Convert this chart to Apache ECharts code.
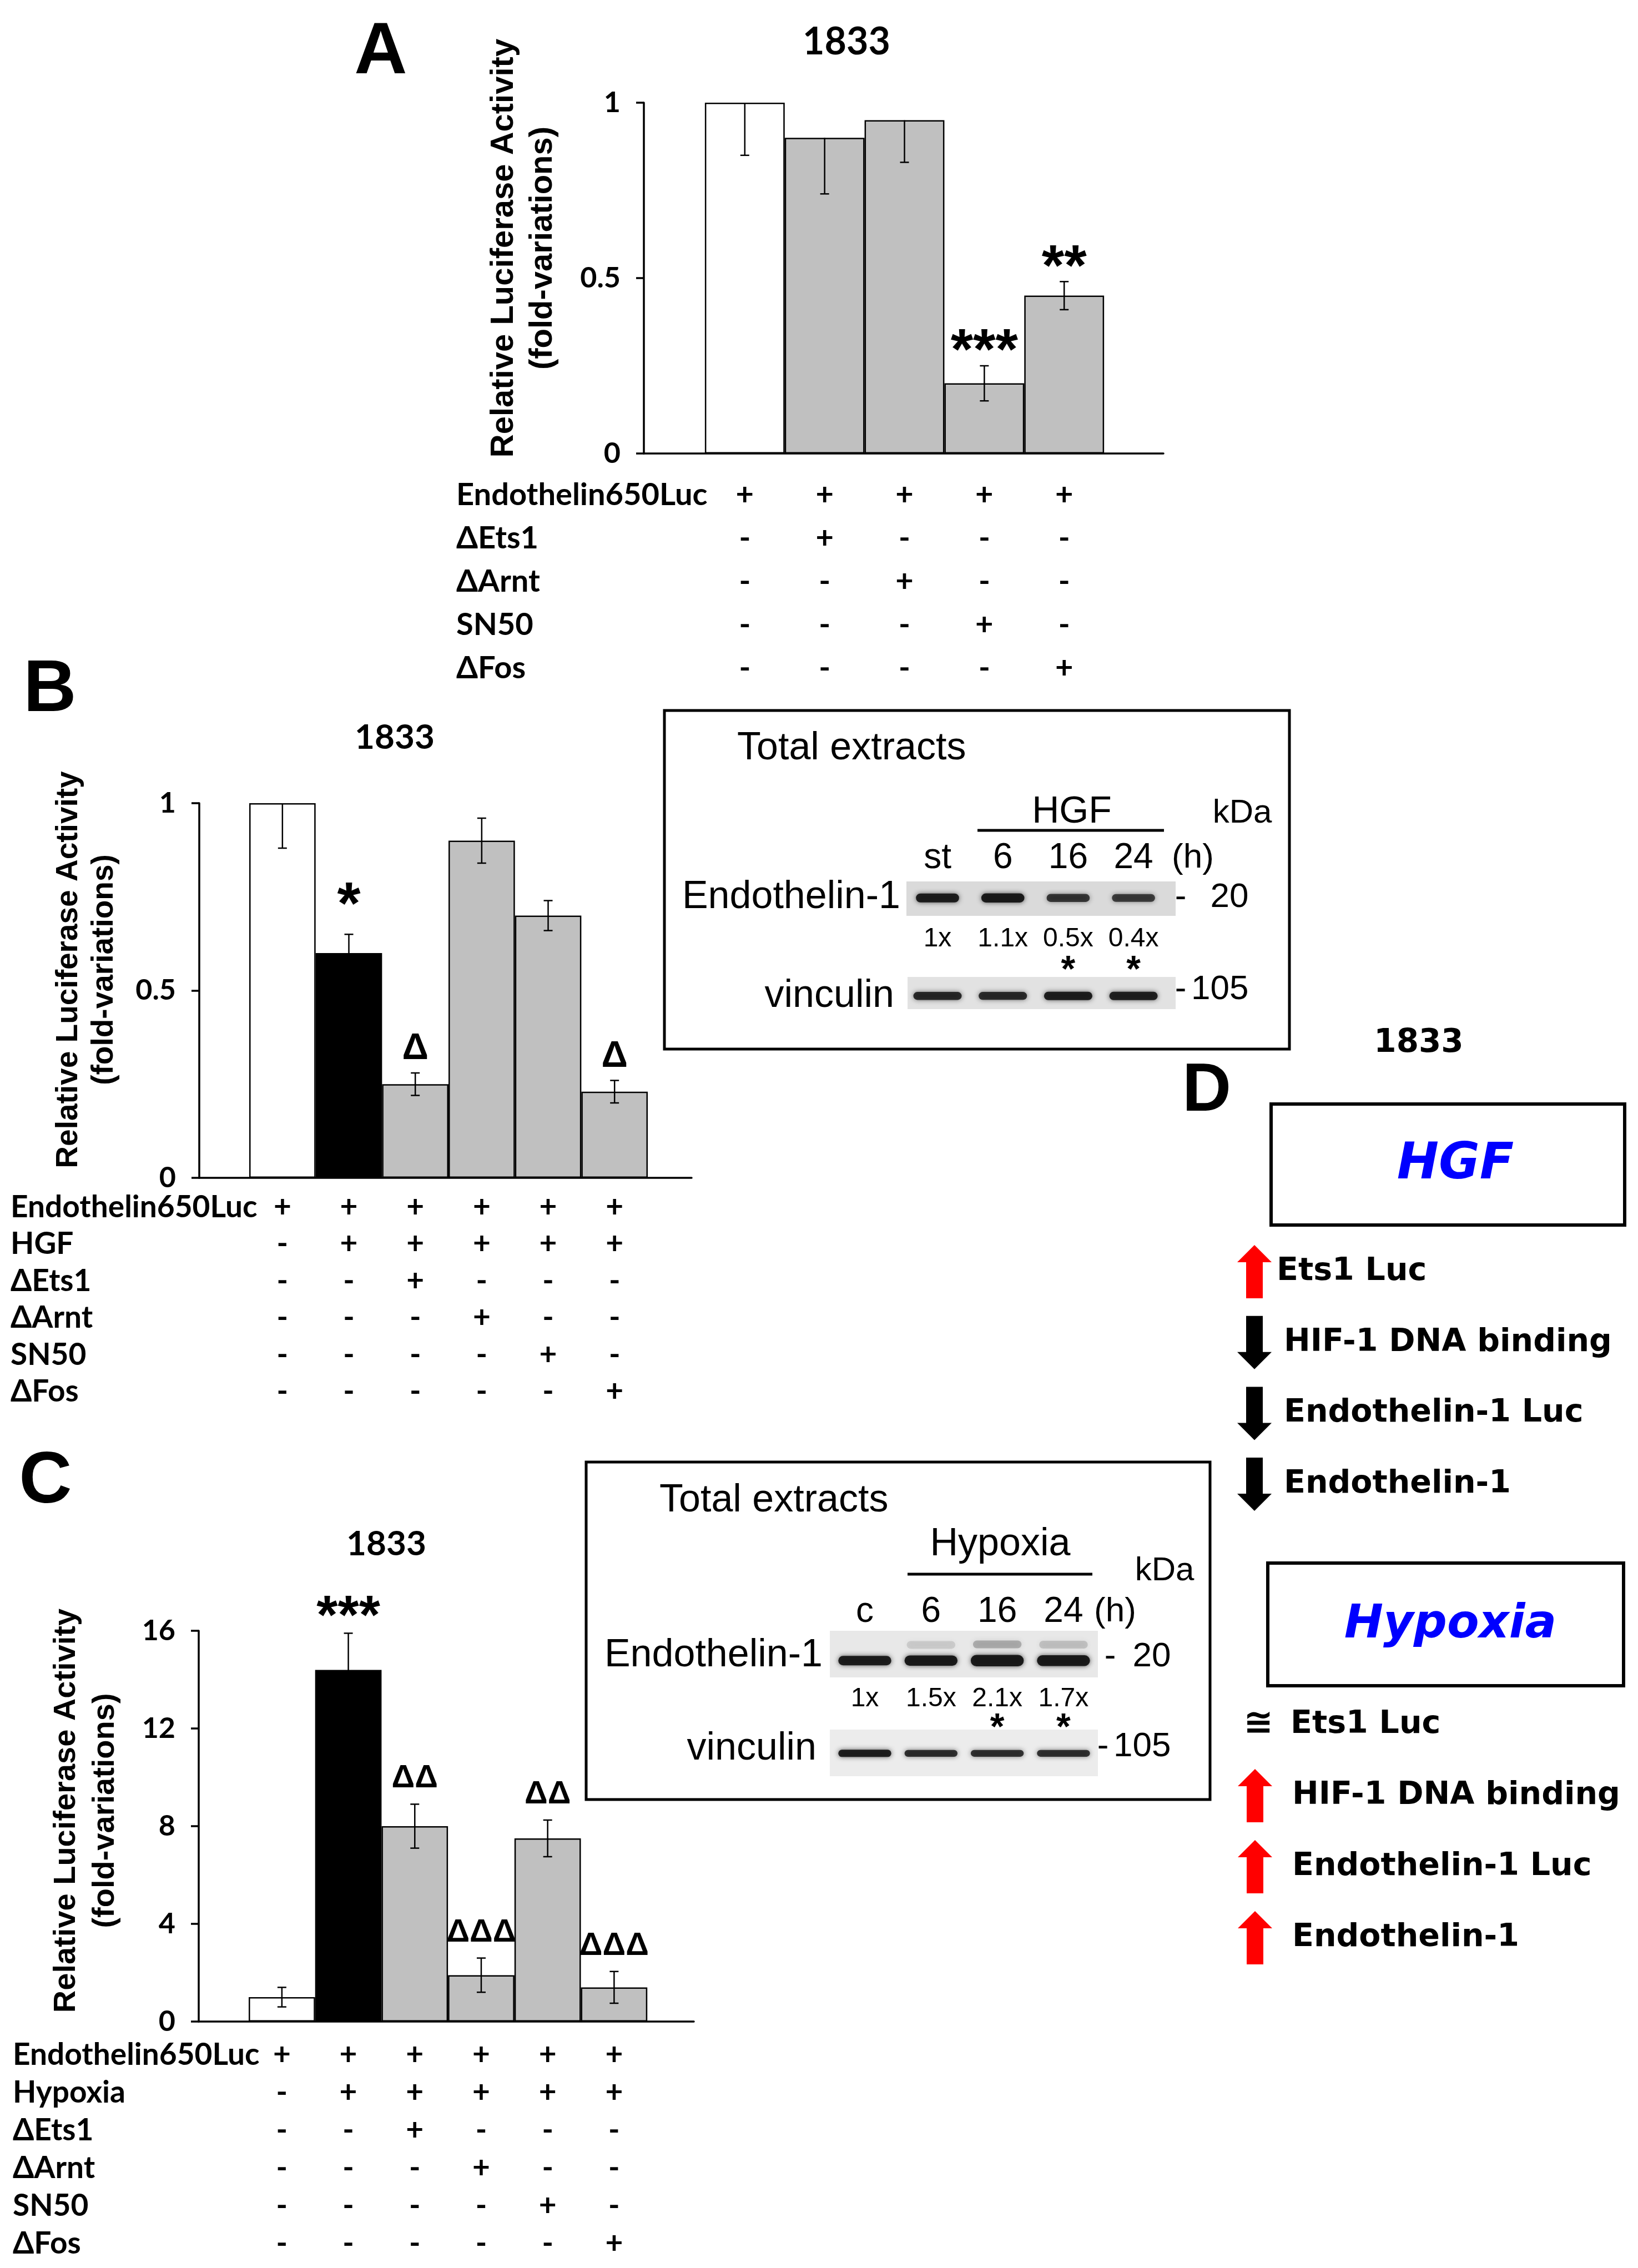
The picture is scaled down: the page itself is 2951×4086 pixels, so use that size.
<!DOCTYPE html>
<html><head><meta charset="utf-8">
<script src="https://cdn.jsdelivr.net/npm/echarts@6/dist/echarts.min.js"></script>
<style>html,body{margin:0;padding:0;background:#fff}#c{width:2951px;height:4086px}</style>
</head><body><div id="c"></div>
<script>
// ================= DATA =================
// Panel A
const titleA = '1833';
const barsA = [1.00, 0.90, 0.95, 0.20, 0.45];
const errUpA = [0, 0, 0, 0.05, 0.04];
const errDownA = [0.15, 0.16, 0.12, 0.05, 0.04];
const signifA = ['', '', '', '***', '**'];
const rowsA = ['Endothelin650Luc', 'ΔEts1', 'ΔArnt', 'SN50', 'ΔFos'];
const tableA = [
  ['+', '+', '+', '+', '+'],
  ['-', '+', '-', '-', '-'],
  ['-', '-', '+', '-', '-'],
  ['-', '-', '-', '+', '-'],
  ['-', '-', '-', '-', '+']
];
const yTicksA = [0, 0.5, 1];

// Panel B
const titleB = '1833';
const barsB = [1.00, 0.60, 0.25, 0.90, 0.70, 0.23];
const errUpB = [0, 0.05, 0.03, 0.06, 0.04, 0.03];
const errDownB = [0.12, 0.05, 0.03, 0.06, 0.04, 0.03];
const signifB = ['', '*', 'Δ', '', '', 'Δ'];
const rowsB = ['Endothelin650Luc', 'HGF', 'ΔEts1', 'ΔArnt', 'SN50', 'ΔFos'];
const tableB = [
  ['+', '+', '+', '+', '+', '+'],
  ['-', '+', '+', '+', '+', '+'],
  ['-', '-', '+', '-', '-', '-'],
  ['-', '-', '-', '+', '-', '-'],
  ['-', '-', '-', '-', '+', '-'],
  ['-', '-', '-', '-', '-', '+']
];
const yTicksB = [0, 0.5, 1];

// Panel C
const titleC = '1833';
const barsC = [1.0, 14.4, 8.0, 1.9, 7.5, 1.4];
const errUpC = [0.4, 1.5, 0.9, 0.7, 0.75, 0.65];
const errDownC = [0.4, 1.5, 0.9, 0.7, 0.75, 0.65];
const signifC = ['', '***', 'ΔΔ', 'ΔΔΔ', 'ΔΔ', 'ΔΔΔ'];
const rowsC = ['Endothelin650Luc', 'Hypoxia', 'ΔEts1', 'ΔArnt', 'SN50', 'ΔFos'];
const tableC = [
  ['+', '+', '+', '+', '+', '+'],
  ['-', '+', '+', '+', '+', '+'],
  ['-', '-', '+', '-', '-', '-'],
  ['-', '-', '-', '+', '-', '-'],
  ['-', '-', '-', '-', '+', '-'],
  ['-', '-', '-', '-', '-', '+']
];
const yTicksC = [0, 4, 16];

// Western blots
const lanesHGF = ['st', '6', '16', '24'];
const et1HGF = [1, 1.1, 0.5, 0.4];
const signifHGF = ['', '', '*', '*'];
const vincHGF = [0.8, 0.75, 1.0, 0.95];
const lanesHyp = ['c', '6', '16', '24'];
const et1Hyp = [1, 1.5, 2.1, 1.7];
const signifHyp = ['', '', '*', '*'];
const vincHyp = [1.0, 0.7, 0.65, 0.65];

// Panel D
const dTitle = '1833';
const dItems = ['Ets1 Luc', 'HIF-1 DNA binding', 'Endothelin-1 Luc', 'Endothelin-1'];
const dHGF = ['up', 'down', 'down', 'down'];
const dHyp = ['similar', 'up', 'up', 'up'];

// ================= STYLE / LAYOUT =================
const F_BAR = 'Lato, "Open Sans", sans-serif';
const F_ARIAL = '"Liberation Sans", Arial, sans-serif';
const F_D = '"DejaVu Sans", sans-serif';
const WHITE = '#ffffff', BLACK = '#000000', GRAY = '#c0c0c0';

const L = {
  A: {left: 1160, top: 185, width: 936, height: 632, xMin: -1.264, xMax: 5.243,
      rowX: 822, rowFirst: 75, rowStep: 78, title: [1525, 76], titleSize: 68,
      yTitle: [943, 447], yTitleSize: 58, yTitleLH: 70, rowFont: 56, stim: false},
  B: {left: 359, top: 1447, width: 887, height: 675, xMin: -1.252, xMax: 6.16,
      rowX: 19, rowFirst: 53, rowStep: 66.5, title: [711, 1329], titleSize: 62,
      yTitle: [156, 1747], yTitleSize: 55, yTitleLH: 64, rowFont: 55, stim: true},
  C: {left: 358, top: 2938, width: 892, height: 704, xMin: -1.252, xMax: 6.2,
      rowX: 23, rowFont: 55, rowFirst: 60, rowStep: 68, title: [696, 2782], titleSize: 62,
      yTitle: [155, 3262], yTitleSize: 56, yTitleLH: 70, stim: true}
};
const panels = {
  A: {bars: barsA, up: errUpA, dn: errDownA, sig: signifA, rows: rowsA, table: tableA, ticks: yTicksA, title: titleA},
  B: {bars: barsB, up: errUpB, dn: errDownB, sig: signifB, rows: rowsB, table: tableB, ticks: yTicksB, title: titleB},
  C: {bars: barsC, up: errUpC, dn: errDownC, sig: signifC, rows: rowsC, table: tableC, ticks: yTicksC, title: titleC}
};
const keys = ['A', 'B', 'C'];

const blotL = [
  {key: 'hgfEt', left: 1633, top: 1588, width: 485, height: 62, xMin: -0.476, xMax: 3.645, bandY: 0.52, bandH: 16, bandW: 0.66, bg: '#dadada',
   values: et1HGF, lanes: lanesHGF, sig: signifHGF, laneGap: 42, ratioGap: 42, starGap: 100, smear: false},
  {key: 'hgfVi', left: 1635, top: 1760, width: 483, height: 58, xMin: -0.459, xMax: 3.645, bandY: 0.41, bandH: 15, bandW: 0.74, bg: '#e2e2e2',
   values: vincHGF},
  {key: 'hypEt', left: 1495, top: 2938, width: 483, height: 84, xMin: -0.528, xMax: 3.52, bandY: 0.36, bandH: 17, bandW: 0.8, bg: '#e8e8e8',
   values: et1Hyp, lanes: lanesHyp, sig: signifHyp, laneGap: 34, ratioGap: 39, starGap: 93, smear: true},
  {key: 'hypVi', left: 1495, top: 3116, width: 483, height: 84, xMin: -0.528, xMax: 3.52, bandY: 0.49, bandH: 13, bandW: 0.8, bg: '#ececec',
   values: vincHyp}
];

function barColor(k, i) {
  if (i === 0) return WHITE;
  if (L[k].stim && i === 1) return BLACK;
  return GRAY;
}

// ================= OPTION =================
const grid = [], xAxis = [], yAxis = [], series = [], graphic = [];

keys.forEach((k, gi) => {
  const P = panels[k], G = L[k];
  grid.push({left: G.left, top: G.top, width: G.width, height: G.height, containLabel: false});
  xAxis.push({type: 'value', gridIndex: gi, min: G.xMin, max: G.xMax,
    axisLine: {show: true, onZero: false, lineStyle: {color: '#000', width: 3.5}},
    axisTick: {show: false}, axisLabel: {show: false}, splitLine: {show: false}});
  yAxis.push({type: 'value', gridIndex: gi, min: P.ticks[0], interval: P.ticks[1], max: P.ticks[2],
    axisLine: {show: true, onZero: false, lineStyle: {color: '#000', width: 3.5}},
    axisTick: {show: true, inside: false, length: 14, lineStyle: {color: '#000', width: 3.5}},
    axisLabel: {show: true, margin: 42, color: '#000', fontFamily: F_BAR, fontWeight: 'bold', fontSize: 52},
    splitLine: {show: false}});
  const bw = G.width / (G.xMax - G.xMin);
  series.push({type: 'bar', xAxisIndex: gi, yAxisIndex: gi, barWidth: bw, silent: true,
    data: P.bars.map((v, i) => ({value: [i, v], itemStyle: {color: barColor(k, i), borderColor: '#000', borderWidth: 2.5}})), z: 2});
  series.push({type: 'custom', xAxisIndex: gi, yAxisIndex: gi, clip: false, silent: true, z: 4,
    data: P.bars.map((v, i) => [i, v, P.up[i], P.dn[i]]),
    renderItem: function (params, api) {
      const i = api.value(0), v = api.value(1), up = api.value(2), dn = api.value(3);
      const top = api.coord([i, v + up]), bot = api.coord([i, v - dn]);
      const x = top[0], cap = 8;
      const ch = [{type: 'line', shape: {x1: x, y1: top[1], x2: x, y2: bot[1]}, style: {stroke: '#000', lineWidth: 2.5}}];
      if (up > 0) ch.push({type: 'line', shape: {x1: x - cap, y1: top[1], x2: x + cap, y2: top[1]}, style: {stroke: '#000', lineWidth: 2.5}});
      if (dn > 0) ch.push({type: 'line', shape: {x1: x - cap, y1: bot[1], x2: x + cap, y2: bot[1]}, style: {stroke: '#000', lineWidth: 2.5}});
      const s = P.sig[params.dataIndex];
      if (s) {
        const isStar = s.indexOf('*') >= 0;
        let size, gap;
        if (isStar) { size = k === 'B' ? 108 : (k === 'A' ? 104 : 98); gap = (k === 'B' ? 71 : (k === 'A' ? 43 : 46)) - 0.2 * size; }
        else { size = k === 'B' ? 66 : 58; gap = k === 'B' ? 43 : 46; }
        ch.push({type: 'text', style: {text: s, x: x, y: top[1] - gap, align: 'center', verticalAlign: 'middle',
          font: 'bold ' + size + 'px ' + F_ARIAL, fill: '#000'}});
      }
      return {type: 'group', children: ch};
    }});
  series.push({type: 'custom', xAxisIndex: gi, yAxisIndex: gi, clip: false, silent: true, z: 4,
    data: P.bars.map((v, i) => [i, 0]),
    renderItem: function (params, api) {
      const p = api.coord([api.value(0), 0]);
      const col = params.dataIndex;
      return {type: 'group', children: P.table.map((row, r) => ({type: 'text', style: {
        text: row[col], x: p[0], y: p[1] + G.rowFirst + r * G.rowStep, align: 'center', verticalAlign: 'middle',
        font: 'bold ' + G.rowFont + 'px ' + F_BAR, fill: '#000'}}))};
    }});
  // row labels
  P.rows.forEach((name, r) => {
    graphic.push({type: 'text', x: G.rowX, y: G.top + G.height + G.rowFirst + r * G.rowStep,
      style: {text: name, align: 'left', verticalAlign: 'middle', font: 'bold ' + G.rowFont + 'px ' + F_BAR, fill: '#000'}});
  });
  // title
  graphic.push({type: 'text', x: G.title[0], y: G.title[1],
    style: {text: P.title, align: 'center', verticalAlign: 'middle', font: 'bold ' + G.titleSize + 'px ' + F_BAR, fill: '#000'}});
  // y axis title
  graphic.push({type: 'text', x: G.yTitle[0], y: G.yTitle[1], rotation: Math.PI / 2,
    style: {text: 'Relative Luciferase Activity\n(fold-variations)', align: 'center', verticalAlign: 'middle',
      lineHeight: G.yTitleLH, font: 'bold ' + G.yTitleSize + 'px ' + F_ARIAL, fill: '#000'}});
});

// Blots
blotL.forEach((B, bi) => {
  const gi = 3 + bi;
  grid.push({left: B.left, top: B.top, width: B.width, height: B.height, show: true, backgroundColor: B.bg, borderWidth: 0});
  xAxis.push({type: 'value', gridIndex: gi, min: B.xMin, max: B.xMax, show: false});
  yAxis.push({type: 'value', gridIndex: gi, min: 0, max: 1, show: false});
  series.push({type: 'custom', xAxisIndex: gi, yAxisIndex: gi, clip: false, silent: true, z: 3,
    data: B.values.map((v, i) => [i, v]),
    renderItem: function (params, api) {
      const i = api.value(0), r = api.value(1);
      const c = api.coord([i, B.bandY]);
      const xl = api.coord([i - B.bandW / 2, 0])[0], xr = api.coord([i + B.bandW / 2, 0])[0];
      const h = B.bandH * (0.8 + 0.2 * Math.min(r, 2));
      const a = Math.min(0.95, 0.62 + 0.3 * r);
      const ch = [{type: 'rect', shape: {x: xl, y: c[1] - h / 2, width: xr - xl, height: h, r: h / 2},
        style: {fill: 'rgba(20,20,20,' + a + ')', shadowBlur: 8, shadowColor: 'rgba(20,20,20,' + (a * 0.8) + ')'}}];
      if (B.smear && r > 1.2) {
        ch.push({type: 'rect', shape: {x: xl + 4, y: c[1] - h / 2 - 26, width: xr - xl - 8, height: 14, r: 7},
          style: {fill: 'rgba(70,70,70,' + Math.min(0.45, 0.3 * (r - 1)) + ')', shadowBlur: 10, shadowColor: 'rgba(70,70,70,0.4)'}});
      }
      if (B.lanes) {
        const tp = api.coord([i, 1])[1], bt = api.coord([i, 0])[1];
        const cx = c[0];
        ch.push({type: 'text', style: {text: B.lanes[params.dataIndex], x: cx, y: tp - B.laneGap, align: 'center', verticalAlign: 'middle',
          font: '64px ' + F_ARIAL, fill: '#000'}});
        ch.push({type: 'text', style: {text: r + 'x', x: cx, y: bt + B.ratioGap, align: 'center', verticalAlign: 'middle',
          font: '48px ' + F_ARIAL, fill: '#000'}});
        const s = B.sig[params.dataIndex];
        if (s) ch.push({type: 'text', style: {text: s, x: cx, y: bt + B.starGap, align: 'center', verticalAlign: 'middle',
          font: 'bold 66px ' + F_ARIAL, fill: '#000'}});
      }
      return {type: 'group', children: ch};
    }});
});

// Panel letters
[['A', 686, 96], ['B', 90, 1245], ['C', 82, 2671], ['D', 2174, 1967]].forEach(t => {
  graphic.push({type: 'text', x: t[1], y: t[2], style: {text: t[0], align: 'center', verticalAlign: 'middle',
    font: 'bold ' + (t[0] === 'D' ? 122 : 132) + 'px ' + F_ARIAL, fill: '#000'}});
});

// Blot boxes and texts
function T(text, x, y, size, align) {
  return {type: 'text', x: x, y: y, style: {text: text, align: align || 'center', verticalAlign: 'middle',
    font: size + 'px ' + F_ARIAL, fill: '#000'}};
}
graphic.push({type: 'rect', shape: {x: 1197, y: 1280, width: 1126, height: 610}, style: {fill: 'none', stroke: '#000', lineWidth: 5}});
graphic.push(T('Total extracts', 1328, 1349, 70, 'left'));
graphic.push(T('HGF', 1931, 1463, 68));
graphic.push({type: 'line', shape: {x1: 1761, y1: 1496, x2: 2097, y2: 1496}, style: {stroke: '#000', lineWidth: 5}});
graphic.push(T('kDa', 2238, 1465, 60));
graphic.push(T('(h)', 2149, 1546, 62));
graphic.push(T('Endothelin-1', 1622, 1617, 70, 'right'));
graphic.push(T('-', 2127, 1617, 62));
graphic.push(T('20', 2215, 1617, 62));
graphic.push(T('vinculin', 1611, 1795, 70, 'right'));
graphic.push(T('-', 2127, 1783, 62));
graphic.push(T('105', 2146, 1783, 62, 'left'));

graphic.push({type: 'rect', shape: {x: 1056, y: 2634, width: 1124, height: 608}, style: {fill: 'none', stroke: '#000', lineWidth: 5}});
graphic.push(T('Total extracts', 1188, 2704, 70, 'left'));
graphic.push(T('Hypoxia', 1802, 2783, 70));
graphic.push({type: 'line', shape: {x1: 1635, y1: 2836, x2: 1968, y2: 2836}, style: {stroke: '#000', lineWidth: 5}});
graphic.push(T('kDa', 2098, 2830, 60));
graphic.push(T('(h)', 2009, 2904, 62));
graphic.push(T('Endothelin-1', 1482, 2983, 70, 'right'));
graphic.push(T('-', 2000, 2985, 62));
graphic.push(T('20', 2075, 2985, 62));
graphic.push(T('vinculin', 1471, 3151, 70, 'right'));
graphic.push(T('-', 1987, 3147, 62));
graphic.push(T('105', 2006, 3147, 62, 'left'));

// Panel D
graphic.push({type: 'text', x: 2556, y: 1880, style: {text: dTitle, align: 'center', verticalAlign: 'middle', font: 'bold 58px ' + F_D, fill: '#000'}});
graphic.push({type: 'rect', shape: {x: 2290, y: 1989, width: 637, height: 218}, style: {fill: 'none', stroke: '#000', lineWidth: 6}});
graphic.push({type: 'text', x: 2622, y: 2100, style: {text: 'HGF', align: 'center', verticalAlign: 'middle', font: 'italic bold 90px ' + F_D, fill: '#0000ff'}});
graphic.push({type: 'rect', shape: {x: 2284, y: 2816, width: 641, height: 221}, style: {fill: 'none', stroke: '#000', lineWidth: 6}});
graphic.push({type: 'text', x: 2613, y: 2928, style: {text: 'Hypoxia', align: 'center', verticalAlign: 'middle', font: 'italic bold 84px ' + F_D, fill: '#0000ff'}});

function arrow(dir, cx, cy, color) {
  const s = dir === 'up' ? 1 : -1;
  const tip = cy - 48 * s, base = cy - 17 * s, end = cy + 48 * s;
  return {type: 'polygon', shape: {points: [[cx, tip], [cx + 31, base], [cx + 15, base], [cx + 15, end], [cx - 15, end], [cx - 15, base], [cx - 31, base]]},
    style: {fill: color}};
}
function dMark(kind, cx, cy) {
  if (kind === 'similar') return {type: 'text', x: cx, y: cy, style: {text: '≅', align: 'center', verticalAlign: 'middle', font: 'bold 64px ' + F_D, fill: '#000'}};
  return arrow(kind, cx, cy, kind === 'up' ? '#ff0000' : '#000000');
}
dItems.forEach((name, k) => {
  const y1 = 2291 + k * 127.7;
  graphic.push(dMark(dHGF[k], 2260, y1));
  graphic.push({type: 'text', x: k === 0 ? 2300 : 2313, y: y1, style: {text: name, align: 'left', verticalAlign: 'middle', font: 'bold 57px ' + F_D, fill: '#000'}});
  const y2 = 3107 + k * 128;
  graphic.push(dMark(dHyp[k], k === 0 ? 2267 : 2261, y2));
  graphic.push({type: 'text', x: k === 0 ? 2325 : 2328, y: y2, style: {text: name, align: 'left', verticalAlign: 'middle', font: 'bold 57px ' + F_D, fill: '#000'}});
});

const option = {
  backgroundColor: '#ffffff',
  animation: false,
  grid: grid, xAxis: xAxis, yAxis: yAxis, series: series,
  graphic: {elements: graphic}
};
const chart = echarts.init(document.getElementById('c'), null, {renderer: 'canvas', width: 2951, height: 4086});
chart.setOption(option);
</script>
</body></html>
